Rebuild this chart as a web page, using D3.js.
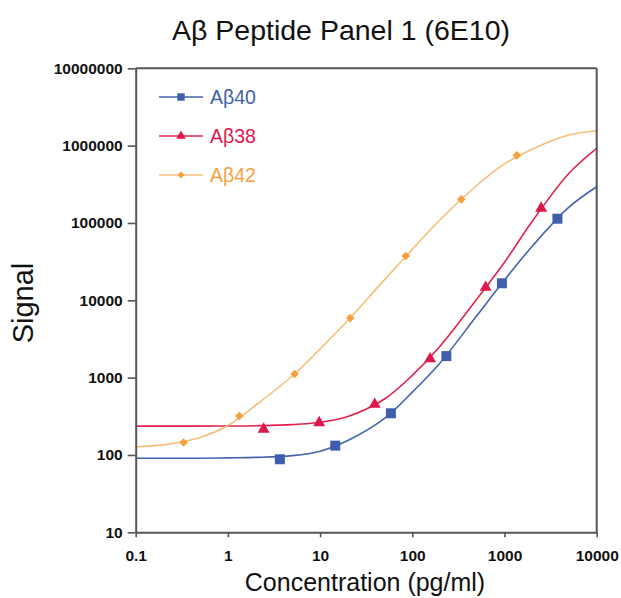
<!DOCTYPE html>
<html>
<head>
<meta charset="utf-8">
<script src="https://cdn.jsdelivr.net/npm/d3@7"></script>
<style>
  body { margin: 0; background: #fff; }
  text { font-family: "Liberation Sans", Arial, sans-serif; }
</style>
</head>
<body>
<svg width="621" height="598"></svg>
<script>
// measured points (pg/ml, signal)
const conc40 = [3.66, 14.6, 58.6, 234, 938, 3750];
const sig40 = [88, 132, 346, 1900, 16600, 113500];
const conc38 = [2.44, 9.77, 39.1, 156, 625, 2500];
const sig38 = [215, 261, 452, 1750, 14700, 155000];
const conc42 = [0.33, 1.33, 5.3, 21.2, 85, 340, 1360];
const sig42 = [145, 319, 1114, 5900, 37400, 202000, 750000];

// fitted curves
const fitConc = [0.1, 0.2, 0.5, 1, 2, 5, 10, 20, 50, 100, 200, 500, 1000, 2000, 5000, 10000];
const fit40 = [90.6, 90.6, 90.8, 91.8, 93, 98, 112, 154, 297, 650, 1550, 6300, 18300, 50000, 160000, 294000];
const fit38 = [236, 236, 236, 237, 239, 247, 265, 315, 530, 1070, 2550, 10300, 31000, 105000, 440000, 925000];
const fit42 = [128, 135, 168, 240, 440, 1050, 2350, 5470, 18500, 45500, 110000, 305000, 580000, 900000, 1370000, 1560000];

const seriesNames = ["A\u03b240", "A\u03b238", "A\u03b242"];
const xTicks = [0.1, 1, 10, 100, 1000, 10000];
const yTicks = [10, 100, 1000, 10000, 100000, 1000000, 10000000];

const svg = d3.select("svg");
const plotLeft = 135.7, plotRight = 596.7, plotTop = 68.3, plotBottom = 532.3;

const x = d3.scaleLog().domain([0.1, 10000]).range([plotLeft, plotRight]);
const y = d3.scaleLog().domain([10, 10000000]).range([plotBottom, plotTop]);

const series = [
  { name: seriesNames[0], conc: conc40, sig: sig40, fit: fit40, line: "#4563ae", fill: "#3f5fae", sym: d3.symbolSquare, rot: 0, size: 100, legSize: 55 },
  { name: seriesNames[1], conc: conc38, sig: sig38, fit: fit38, line: "#e1224f", fill: "#e0174a", sym: d3.symbolTriangle, rot: 0, size: 62, legSize: 40 },
  { name: seriesNames[2], conc: conc42, sig: sig42, fit: fit42, line: "#f8bd78", fill: "#f6a040", sym: d3.symbolSquare, rot: 45, size: 38, legSize: 26 }
];

// fitted lines
const line = d3.line()
  .x(d => x(d[0]))
  .y(d => y(d[1]))
  .curve(d3.curveCatmullRom.alpha(0.5));

series.forEach(s => {
  svg.append("path")
    .datum(fitConc.map((c, i) => [c, s.fit[i]]))
    .attr("fill", "none")
    .attr("stroke", s.line)
    .attr("stroke-width", 1.6)
    .attr("d", line);
});

// markers
series.forEach(s => {
  svg.append("g").selectAll("path")
    .data(s.conc.map((c, i) => [c, s.sig[i]]))
    .enter()
    .append("path")
    .attr("transform", d => `translate(${x(d[0])},${y(d[1])}) rotate(${s.rot})`)
    .attr("d", d3.symbol().type(s.sym).size(s.size))
    .attr("fill", s.fill);
});

// frame (top and right)
svg.append("line").attr("x1", plotLeft).attr("x2", plotRight).attr("y1", plotTop).attr("y2", plotTop)
  .attr("stroke", "#555").attr("stroke-width", 2);
svg.append("line").attr("x1", plotRight).attr("x2", plotRight).attr("y1", plotTop).attr("y2", plotBottom)
  .attr("stroke", "#555").attr("stroke-width", 2);

// axes
const xAxis = svg.append("g")
  .attr("transform", `translate(0,${plotBottom})`)
  .call(d3.axisBottom(x).tickValues(xTicks).tickFormat(d => String(d)).tickSize(5).tickPadding(13).tickSizeOuter(0));

const yAxis = svg.append("g")
  .attr("transform", `translate(${plotLeft},0)`)
  .call(d3.axisLeft(y).tickValues(yTicks).tickFormat(d => String(d)).tickSize(8).tickPadding(5).tickSizeOuter(0));

[xAxis, yAxis].forEach(a => {
  a.select(".domain").attr("stroke", "#555").attr("stroke-width", 2);
  a.selectAll(".tick line").attr("stroke", "#555").attr("stroke-width", 1.6);
  a.selectAll(".tick text")
    .attr("fill", "#111")
    .style("font-family", "'Liberation Sans', Arial, sans-serif")
    .style("font-size", "15.5px")
    .style("font-weight", "bold");
});

// legend
series.forEach((s, i) => {
  const ly = 97 + i * 39;
  const g = svg.append("g");
  g.append("line").attr("x1", 159).attr("x2", 203).attr("y1", ly).attr("y2", ly)
    .attr("stroke", s.line).attr("stroke-width", 1.6);
  g.append("path")
    .attr("transform", `translate(181,${ly}) rotate(${s.rot})`)
    .attr("d", d3.symbol().type(s.sym).size(s.legSize))
    .attr("fill", s.fill);
  g.append("text")
    .attr("x", 210).attr("y", ly + 7)
    .attr("fill", s.fill)
    .style("font-size", "19.5px")
    .text(s.name);
});

// titles
svg.append("text")
  .attr("x", 341).attr("y", 40)
  .attr("text-anchor", "middle")
  .attr("fill", "#111")
  .style("font-size", "28.5px")
  .text("A\u03b2 Peptide Panel 1 (6E10)");

svg.append("text")
  .attr("x", 365).attr("y", 591)
  .attr("text-anchor", "middle")
  .attr("fill", "#111")
  .style("font-size", "25px")
  .text("Concentration (pg/ml)");

svg.append("text")
  .attr("transform", "translate(33,303) rotate(-90)")
  .attr("text-anchor", "middle")
  .attr("fill", "#111")
  .style("font-size", "29px")
  .text("Signal");
</script>
</body>
</html>
